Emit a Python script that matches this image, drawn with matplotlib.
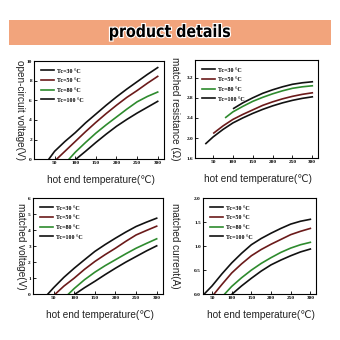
import matplotlib
matplotlib.use("Agg")
import matplotlib.pyplot as plt
from matplotlib.patches import Rectangle, PathPatch
from matplotlib.textpath import TextPath
from matplotlib.font_manager import FontProperties
from matplotlib.transforms import Affine2D, IdentityTransform

# hot end temperature (C) and readings for each cold end temperature Tc
tc_labels = ["Tc=30 °C", "Tc=50 °C", "Tc=80 °C", "Tc=100 °C"]
line_colors = ["#111111", "#6b1a1a", "#2e8b2e", "#111111"]

# open-circuit voltage (V)
voc_x = [
    [36, 50, 75, 100, 125, 150, 175, 200, 225, 250, 275, 300],
    [55, 75, 100, 125, 150, 175, 200, 225, 250, 275, 300],
    [85, 100, 125, 150, 175, 200, 225, 250, 275, 300],
    [102, 125, 150, 175, 200, 225, 250, 275, 300],
]
voc_y = [
    [0, 0.8, 1.8, 2.7, 3.7, 4.6, 5.5, 6.35, 7.15, 7.9, 8.65, 9.35],
    [0, 0.8, 1.8, 2.8, 3.75, 4.65, 5.5, 6.3, 7.0, 7.75, 8.45],
    [0, 0.7, 1.7, 2.65, 3.5, 4.3, 5.1, 5.85, 6.4, 6.85],
    [0, 0.8, 1.7, 2.55, 3.35, 4.05, 4.7, 5.3, 5.9],
]

# matched resistance (ohm)
res_x = [
    [32, 50, 75, 100, 125, 150, 175, 200, 225, 250, 275, 300],
    [52, 75, 100, 125, 150, 175, 200, 225, 250, 275, 300],
    [82, 100, 125, 150, 175, 200, 225, 250, 275, 300],
    [102, 125, 150, 175, 200, 225, 250, 275, 300],
]
res_y = [
    [1.89, 2.02, 2.17, 2.3, 2.4, 2.49, 2.57, 2.64, 2.7, 2.75, 2.79, 2.82],
    [2.1, 2.24, 2.37, 2.47, 2.56, 2.65, 2.72, 2.78, 2.83, 2.87, 2.9],
    [2.41, 2.52, 2.63, 2.73, 2.81, 2.88, 2.94, 2.99, 3.02, 3.04],
    [2.59, 2.7, 2.8, 2.89, 2.96, 3.02, 3.07, 3.1, 3.12],
]

# matched voltage (V)
mv_x = [
    [36, 50, 75, 100, 125, 150, 175, 200, 225, 250, 275, 300],
    [54, 75, 100, 125, 150, 175, 200, 225, 250, 275, 300],
    [86, 100, 125, 150, 175, 200, 225, 250, 275, 300],
    [102, 125, 150, 175, 200, 225, 250, 275, 300],
]
mv_y = [
    [0, 0.4, 1.05, 1.62, 2.15, 2.67, 3.1, 3.5, 3.88, 4.23, 4.5, 4.75],
    [0, 0.5, 1.0, 1.55, 2.04, 2.47, 2.87, 3.3, 3.7, 3.98, 4.25],
    [0, 0.35, 0.9, 1.37, 1.78, 2.15, 2.52, 2.87, 3.17, 3.46],
    [0, 0.4, 0.8, 1.22, 1.62, 2.0, 2.35, 2.7, 3.02],
]

# matched current (A)
mc_x = [
    [30, 50, 75, 100, 125, 150, 175, 200, 225, 250, 275, 300],
    [55, 75, 100, 125, 150, 175, 200, 225, 250, 275, 300],
    [82, 100, 125, 150, 175, 200, 225, 250, 275, 300],
    [101, 125, 150, 175, 200, 225, 250, 275, 300],
]
mc_y = [
    [0, 0.17, 0.42, 0.65, 0.85, 1.03, 1.16, 1.27, 1.37, 1.46, 1.52, 1.56],
    [0, 0.2, 0.44, 0.63, 0.8, 0.93, 1.04, 1.14, 1.24, 1.31, 1.37],
    [0, 0.16, 0.34, 0.5, 0.64, 0.76, 0.87, 0.96, 1.03, 1.08],
    [0, 0.17, 0.33, 0.48, 0.61, 0.71, 0.8, 0.88, 0.94],
]

x_ticks = [50, 100, 150, 200, 250, 300]

panels = [
    # rect, xs, ys, xlim, ylim, yticks, yfmt, ylabel, ylabel x
    ([0.100, 0.532, 0.382, 0.288], voc_x, voc_y, (0, 315), (0, 10),
     [0, 2, 4, 6, 8, 10], "%d", "open-circuit voltage(V)", 0.058),
    ([0.574, 0.535, 0.362, 0.288], res_x, res_y, (5, 315), (1.6, 3.55),
     [1.6, 2.0, 2.4, 2.8, 3.2], "%.1f", "matched resistance (Ω)", 0.515),
    ([0.097, 0.135, 0.382, 0.282], mv_x, mv_y, (0, 315), (0, 6),
     [0, 1, 2, 3, 4, 5, 6], "%d", "matched voltage(V)", 0.062),
    ([0.597, 0.135, 0.332, 0.282], mc_x, mc_y, (27, 314), (0, 2.0),
     [0.0, 0.5, 1.0, 1.5, 2.0], "%.1f", "matched current(A)", 0.515),
]

W = H = 340
fig = plt.figure(figsize=(W / 100, H / 100), dpi=100)
fig.patch.set_facecolor("white")

# title banner
fig.patches.append(Rectangle((9 / W, 1 - 45 / H), 322 / W, 25 / H,
                             transform=fig.transFigure, facecolor="#f2a47c",
                             edgecolor="none"))

# condensed bold heading: squeeze a bold text path horizontally
tp = TextPath((0, 0), "product details", size=17,
              prop=FontProperties(family="DejaVu Sans", weight="bold"))
ext = tp.get_extents()
sx = 120 / ext.width
tr = (Affine2D().translate(-ext.x0 - ext.width / 2, 0)
      .scale(sx, 1).translate(W / 2, H - 37))
fig.patches.append(PathPatch(tp, transform=tr + IdentityTransform(),
                             facecolor="black", edgecolor="white", lw=1.6))
fig.patches.append(PathPatch(tp, transform=tr + IdentityTransform(),
                             facecolor="black", edgecolor="none"))

for rect, xs, ys, xlim, ylim, yticks, yfmt, ylabel, ylx in panels:
    ax = fig.add_axes(rect)
    for i in range(4):
        ax.plot(xs[i], ys[i], color=line_colors[i], lw=1.2, label=tc_labels[i])
    ax.set_xlim(*xlim)
    ax.set_ylim(*ylim)
    ax.set_xticks(x_ticks)
    ax.set_yticks(yticks)
    ax.set_xticklabels([str(t) for t in x_ticks])
    ax.set_yticklabels([yfmt % t for t in yticks])
    ax.tick_params(direction="in", length=2, width=0.6, pad=1.5, labelsize=3.8)
    for lab in ax.get_xticklabels() + ax.get_yticklabels():
        lab.set_family("Liberation Serif")
        lab.set_fontweight("bold")
    for sp in ax.spines.values():
        sp.set_linewidth(0.8)
    ax.legend(loc="upper left", frameon=False, handlelength=2.2,
              labelspacing=0.75, handletextpad=0.4, borderaxespad=0.8,
              prop={"family": "Liberation Serif", "weight": "bold", "size": 4.3})
    # axis labels sit outside the frame
    fig.text(ylx, rect[1] + rect[3] / 2, ylabel, rotation=-90, ha="center",
             va="center", fontsize=7.2, color="#222222",
             family=["Liberation Sans", "DejaVu Sans"])
    fig.text(rect[0] + rect[2] / 2 + 0.005, rect[1] - 0.06,
             "hot end temperature(℃)", ha="center", va="center",
             fontsize=7.2, color="#222222",
             family=["Liberation Sans", "DejaVu Sans"])

fig.savefig("out.png", dpi=100)
